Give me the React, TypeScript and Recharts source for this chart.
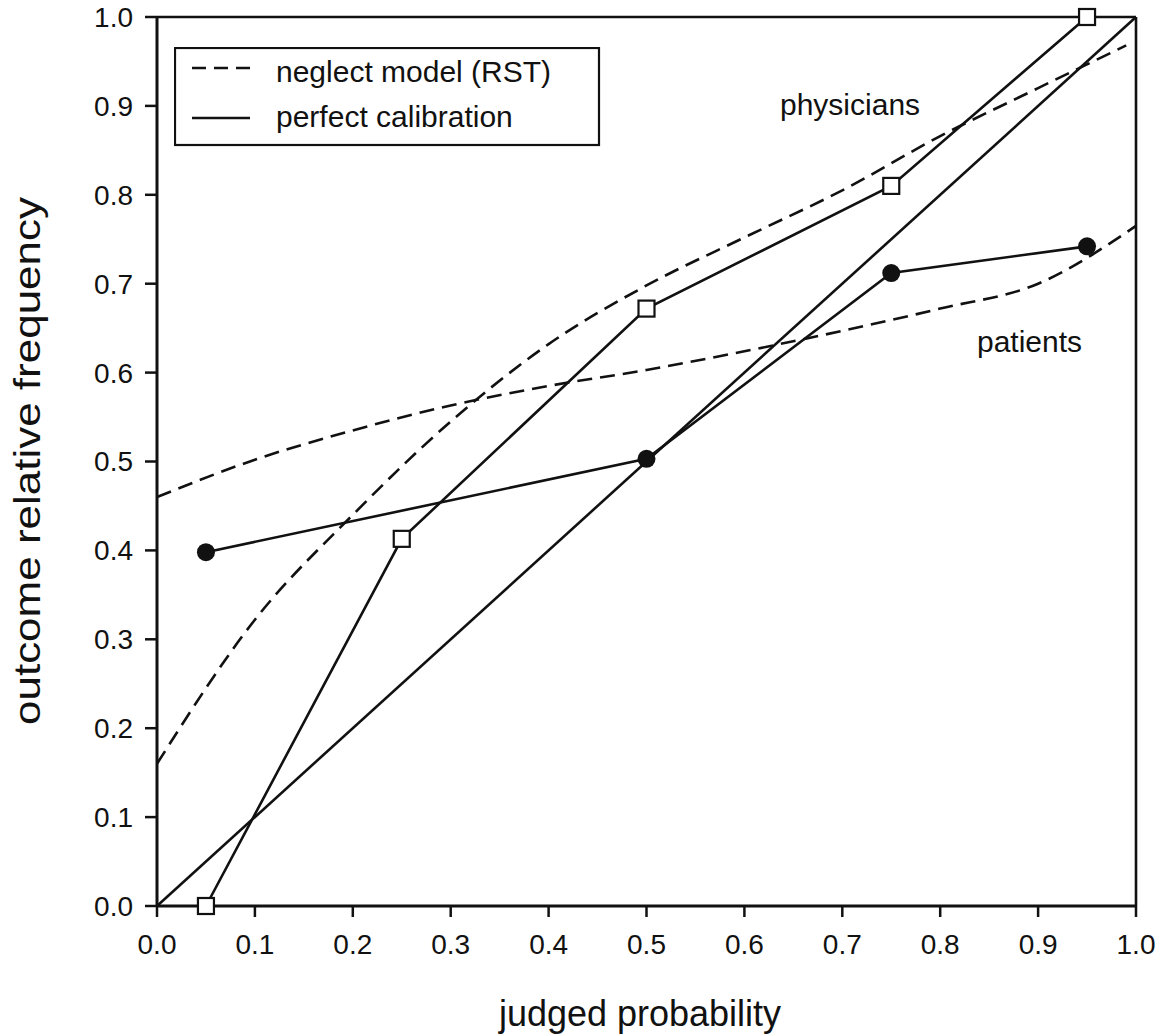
import React from "react"
import { ComposedChart, Line, XAxis, YAxis, ReferenceLine } from "recharts"

const INK = "#111111"
const FONT = "'Liberation Sans', Arial, Helvetica, sans-serif"

// judged probability -> outcome relative frequency
const physicians = [
  { x: 0.05, y: 0.0 },
  { x: 0.25, y: 0.413 },
  { x: 0.5, y: 0.672 },
  { x: 0.75, y: 0.81 },
  { x: 0.95, y: 1.0 },
]

const patients = [
  { x: 0.05, y: 0.398 },
  { x: 0.5, y: 0.503 },
  { x: 0.75, y: 0.712 },
  { x: 0.95, y: 0.742 },
]

// neglect model (RST) predictions
const physiciansRST = [
  { x: 0.0, y: 0.16 },
  { x: 0.1, y: 0.322 },
  { x: 0.2, y: 0.44 },
  { x: 0.3, y: 0.545 },
  { x: 0.4, y: 0.632 },
  { x: 0.5, y: 0.698 },
  { x: 0.6, y: 0.752 },
  { x: 0.7, y: 0.805 },
  { x: 0.8, y: 0.866 },
  { x: 0.9, y: 0.92 },
  { x: 0.99, y: 0.968 },
]

const patientsRST = [
  { x: 0.0, y: 0.46 },
  { x: 0.1, y: 0.502 },
  { x: 0.2, y: 0.535 },
  { x: 0.3, y: 0.563 },
  { x: 0.4, y: 0.585 },
  { x: 0.5, y: 0.603 },
  { x: 0.6, y: 0.624 },
  { x: 0.7, y: 0.647 },
  { x: 0.8, y: 0.672 },
  { x: 0.9, y: 0.7 },
  { x: 1.0, y: 0.765 },
]

const calibration = [
  { x: 0, y: 0 },
  { x: 1, y: 1 },
]

const TICKS = [0, 0.1, 0.2, 0.3, 0.4, 0.5, 0.6, 0.7, 0.8, 0.9, 1.0]

const W = 1174
const H = 1036

function SquareDot(props: any) {
  const { cx, cy, index } = props
  if (cx == null || cy == null) return null
  return (
    <rect key={`sq-${index}`} x={cx - 8} y={cy - 8} width={16} height={16}
      fill="#fff" stroke={INK} strokeWidth={2.2} />
  )
}

function CircleDot(props: any) {
  const { cx, cy, index } = props
  if (cx == null || cy == null) return null
  return <circle key={`c-${index}`} cx={cx} cy={cy} r={9} fill={INK} stroke="none" />
}

function LegendBox() {
  return (
    <svg width={428} height={100} style={{ display: "block" }}>
      <rect x={1} y={1} width={424} height={97} fill="#fff" stroke={INK} strokeWidth={2.2} />
      <line x1={18} x2={76} y1={21} y2={21} stroke={INK} strokeWidth={2.6} strokeDasharray="14 8" />
      <text x={102} y={35} fontSize={30} fontFamily={FONT} fill={INK}>neglect model (RST)</text>
      <line x1={18} x2={76} y1={71} y2={71} stroke={INK} strokeWidth={2.6} />
      <text x={102} y={80} fontSize={30} fontFamily={FONT} fill={INK}>perfect calibration</text>
    </svg>
  )
}

export default function App() {
  const tick = { fontSize: 28, fill: INK, fontFamily: FONT }
  return (
    <div style={{ position: "absolute", left: 0, top: 0, width: W, height: H, background: "#fff" }}>
      <ComposedChart width={W} height={H} margin={{ top: 17, right: 38, left: 0, bottom: 0 }}>
        <XAxis
          type="number"
          dataKey="x"
          domain={[0, 1]}
          ticks={TICKS}
          tickFormatter={(v: number) => v.toFixed(1)}
          tick={tick}
          tickSize={11}
          tickMargin={17}
          height={130}
          axisLine={{ stroke: INK, strokeWidth: 3 }}
          tickLine={{ stroke: INK, strokeWidth: 2.5 }}
          label={{
            content: () => (
              <text x={640} y={1026} textAnchor="middle" fontSize={36} fontFamily={FONT} fill={INK}>
                judged probability
              </text>
            ),
          }}
        />
        <YAxis
          type="number"
          dataKey="y"
          domain={[0, 1]}
          ticks={TICKS}
          tickFormatter={(v: number) => v.toFixed(1)}
          tick={tick}
          tickSize={12}
          tickMargin={12}
          width={157}
          axisLine={{ stroke: INK, strokeWidth: 3 }}
          tickLine={{ stroke: INK, strokeWidth: 2.5 }}
          label={{
            content: () => (
              <text
                x={40}
                y={461}
                transform="rotate(-90 40 461)"
                textAnchor="middle"
                fontSize={36}
                fontFamily={FONT}
                fill={INK}
                textLength={528}
                lengthAdjust="spacingAndGlyphs"
              >
                outcome relative frequency
              </text>
            ),
          }}
        />
        <ReferenceLine y={1} stroke={INK} strokeWidth={2.6} />
        <ReferenceLine x={1} stroke={INK} strokeWidth={2.6} />

        <Line data={physiciansRST} dataKey="y" type="monotone" stroke={INK} strokeWidth={2.6}
          strokeDasharray="15 8" dot={false} isAnimationActive={false} />
        <Line data={patientsRST} dataKey="y" type="monotone" stroke={INK} strokeWidth={2.6}
          strokeDasharray="15 8" dot={false} isAnimationActive={false} />
        <Line data={calibration} dataKey="y" type="linear" stroke={INK} strokeWidth={2.6}
          dot={false} isAnimationActive={false} />
        <Line data={patients} dataKey="y" type="linear" stroke={INK} strokeWidth={2.6}
          dot={CircleDot} isAnimationActive={false} />
        <Line data={physicians} dataKey="y" type="linear" stroke={INK} strokeWidth={2.6}
          dot={SquareDot} isAnimationActive={false} />
      </ComposedChart>
      <div style={{ position: "absolute", left: 174, top: 47 }}>
        <LegendBox />
      </div>
      <div style={{ position: "absolute", left: 780, top: 88, fontSize: 30, fontFamily: FONT, color: INK, lineHeight: "34px" }}>
        physicians
      </div>
      <div style={{ position: "absolute", left: 977, top: 325, fontSize: 30, fontFamily: FONT, color: INK, lineHeight: "34px" }}>
        patients
      </div>
    </div>
  )
}
